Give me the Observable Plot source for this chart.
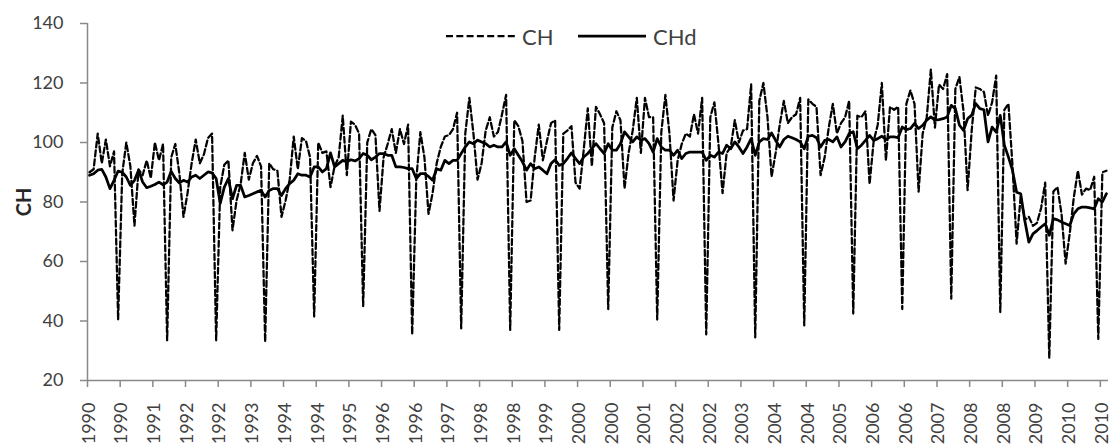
<!DOCTYPE html>
<html>
<head>
<meta charset="utf-8">
<script src="https://cdn.jsdelivr.net/npm/d3@7"></script>
<script src="https://cdn.jsdelivr.net/npm/@observablehq/plot@0.6"></script>
<style>
  body { margin: 0; background: #fff; }
  #wrap { position: relative; width: 1109px; height: 446px; overflow: hidden; font-family: Lato, "Open Sans", sans-serif; }
  #wrap svg.plot { position: absolute; left: 0; top: 0; }
  .lg { position: absolute; }
  .lgtext { position: absolute; font-size: 22px; color: #404040; line-height: 1; transform: translateY(-50%); }
  #ytitle { position: absolute; left: 22.5px; top: 202px; transform: translate(-50%, -50%) rotate(-90deg); font-weight: bold; font-size: 20px; color: #262626; white-space: nowrap; }
</style>
</head>
<body>
<div id="wrap"></div>
<script>
// Monthly series, Jan 1990 .. Oct 2010
const ch = [
  90, 91, 103, 93, 101, 92, 97, 40.5, 89.5, 100, 92, 72,
  91, 89, 94, 88, 100, 94, 99.5, 33.5, 95, 99.5, 89.5, 75,
  83, 93, 101, 93, 96, 101.5, 103, 33.5, 85, 92.5, 94, 70.5,
  80.5, 86, 96.5, 87.5, 93, 95.5, 92, 33, 93, 91, 90.5, 75,
  80.5, 87.5, 102, 91, 101.5, 100.5, 95, 41.5, 100, 96.5, 97, 85,
  92, 95, 109, 89, 107, 106, 103, 45, 100, 104.5, 102.5, 77,
  95, 99.5, 104.5, 96.5, 104.5, 99.5, 106, 35.5, 87.5, 103.5, 95, 76,
  83, 93, 98.5, 102, 102.5, 104.5, 110, 37.5, 103, 115, 103, 87.5,
  93, 104, 108.5, 102, 103.5, 109.5, 116, 37, 107.5, 105.5, 100.5, 80,
  80.5, 95, 106, 94, 100.5, 106.5, 107.5, 37, 103, 104, 105.5, 86.5,
  84.5, 97.5, 111.5, 92, 112, 109.5, 106.5, 44, 105, 110.5, 107.5, 84.5,
  96.5, 104, 115, 96.5, 115, 108.5, 108.5, 40.5, 103.5, 116, 103, 80.5,
  94, 99.5, 103, 102, 109.5, 103, 115, 35.5, 108.5, 113.5, 99.5, 83,
  96.5, 98.5, 107.5, 100, 104, 104.5, 119.5, 34.5, 114, 120, 108.5, 88.5,
  96.5, 106, 114, 106.5, 108.5, 109.5, 115, 38.5, 114.5, 113, 112, 89,
  95, 105, 113, 103, 106.5, 108.5, 114, 42.5, 109, 108.5, 110.5, 86,
  100.5, 106, 120, 94, 112, 111, 112, 44, 113, 117.5, 113, 83.5,
  103, 108.5, 124.5, 105, 119.5, 118, 123, 47.5, 118, 122, 110.5, 84,
  104, 118.5, 118, 117, 109, 113.5, 122.5, 43, 111, 113, 92, 66,
  82, 74, 75, 72, 73, 78, 86.5, 27.5, 83.5, 85, 76, 59.3,
  69.3, 81.5, 90.5, 82.5, 84.5, 84, 88.5, 34, 90, 90.5
];
const chd = [
  89, 89.5, 90.7, 91, 88.4, 84.5, 87.3, 90.4, 90, 88.4, 85.6, 87.3,
  90.7, 86.7, 84.8, 85.3, 85.9, 86.7, 85.8, 86.7, 90.3, 87.9, 86.4, 87.3,
  86.7, 88.4, 89, 87.9, 89, 90.1, 89.8, 87.9, 79.5, 85, 87.9, 81.1,
  85.6, 85.6, 81.7, 82.2, 82.8, 83.4, 83.9, 81.7, 83.9, 84.5, 84.5, 82.2,
  84.5, 86.2, 87.3, 89.5, 89, 89, 88.4, 91.8, 91.8, 90.1, 91.2, 96.5,
  91.8, 92.9, 94, 93.5, 94.2, 93.8, 94.6, 96.3, 95.7, 94.2, 95.1, 96.3,
  96.3, 95.7, 95.7, 91.8, 91.8, 91.6, 91.2, 91.2, 87.9, 89.5, 89.5, 88.6,
  87.3, 91.2, 90.7, 94, 92.9, 94, 94, 96.3, 98.5, 100.2, 99.6, 100.8,
  100.2, 99.6, 98.5, 99.1, 98.5, 98.5, 100.2, 95.7, 97.9, 95.7, 93.5, 90.7,
  92.9, 91.2, 91.8, 90.7, 89.5, 92.9, 94.2, 92.3, 92.9, 94.6, 96.5, 94.6,
  92.9, 95.1, 96.3, 97.9, 99.6, 97.9, 96.3, 99.6, 97.4, 97.4, 99.6, 103.6,
  101.9, 100.2, 101.9, 100.8, 101.3, 99.6, 96.8, 101.3, 98.5, 97.4, 97.4, 95.7,
  97.4, 94.6, 96.3, 96.8, 96.8, 96.8, 96.8, 94, 95.7, 95.1, 96.8, 96.3,
  99.1, 97.9, 100.2, 98.5, 96.3, 98.5, 101.3, 95.7, 100.2, 101.3, 101, 103.2,
  100.7, 98.5, 101, 102.1, 101.6, 101, 100.2, 97.9, 102.1, 102.4, 101.6, 98.5,
  100.7, 101, 100.2, 101.9, 98.5, 100.2, 103, 103.6, 97.9, 99.1, 100.7, 102.4,
  100.7, 101.3, 102.1, 101, 101.9, 101.9, 101.6, 105.2, 104.3, 104.7, 106.4, 104.7,
  105.8, 107.5, 108.6, 107.5, 107.7, 108, 108.6, 112.5, 111.4, 105.8, 104.1, 108,
  109.2, 113.1, 111.4, 111, 100.2, 105.2, 103.5, 109.1, 99.1, 95.1, 90.6, 83.3,
  82.8, 73.8, 66.5, 69.3, 70.4, 71.6, 72.7, 68.8, 74.4, 74, 73.3, 72.7,
  72.1, 76, 77.7, 78.3, 78.3, 78, 77.7, 81.1, 80, 82.8
];
const tickLabels = [
  "1990","1990","1991","1992","1992","1993","1994","1994","1995","1996","1996",
  "1997","1998","1998","1999","2000","2000","2001","2002","2002","2003","2004",
  "2004","2005","2006","2006","2007","2008","2008","2009","2010","2010"
];
const labelStep = 8;
const yTicks = [20, 40, 60, 80, 100, 120, 140];
const seriesNames = ["CH", "CHd"];
const yTitle = "CH";

const rows = ch.map((v, i) => ({ i, ch: v, chd: chd[i] }));
const labelIdx = tickLabels.map((_, k) => k * labelStep);
const boundaries = tickLabels.map((_, k) => k * labelStep - 0.5);
const axisGray = "#898989";

const chart = Plot.plot({
  width: 1109,
  height: 446,
  marginLeft: 87,
  marginRight: 1,
  marginTop: 23,
  marginBottom: 66,
  style: { fontFamily: "Lato, 'Open Sans', sans-serif", fontSize: "18px", color: "#404040", background: "transparent", overflow: "visible" },
  x: { type: "linear", domain: [-0.5, ch.length - 0.5] },
  y: { domain: [20, 140] },
  marks: [
    Plot.axisY({ ticks: yTicks, tickSize: 7, tickPadding: 17, stroke: axisGray, strokeWidth: 1.5, label: null, fontSize: 18, tickFormat: d => String(d) }),
    Plot.axisX({ ticks: boundaries, tickSize: 7, stroke: axisGray, strokeWidth: 1.5, tickFormat: () => "", label: null }),
    Plot.text(labelIdx, { x: d => d, frameAnchor: "bottom", text: d => tickLabels[d / labelStep], rotate: -90, textAnchor: "end", lineAnchor: "middle", dy: 22, dx: -0.5, fontSize: 18, fill: "#404040" }),
    Plot.ruleX([-0.5], { stroke: axisGray, strokeWidth: 1.5 }),
    Plot.ruleY([20], { stroke: axisGray, strokeWidth: 1.5 }),
    Plot.lineY(rows, { x: "i", y: "ch", stroke: "#000", strokeWidth: 2.25, strokeDasharray: "6,3" }),
    Plot.lineY(rows, { x: "i", y: "chd", stroke: "#000", strokeWidth: 2.75 })
  ]
});
chart.classList.add("plot");
const wrap = document.getElementById("wrap");
wrap.appendChild(chart);

// Legend (inside plot area, top)
const legendHTML = `
  <svg class="lg" style="left:446px;top:33px" width="69" height="6"><line x1="0" y1="3" x2="69" y2="3" stroke="#000" stroke-width="2.25" stroke-dasharray="7,3.3"/></svg>
  <div class="lgtext" style="left:522px;top:37px">${seriesNames[0]}</div>
  <svg class="lg" style="left:578px;top:33px" width="68" height="6"><line x1="0" y1="3" x2="68" y2="3" stroke="#000" stroke-width="2.75"/></svg>
  <div class="lgtext" style="left:653px;top:37px">${seriesNames[1]}</div>
  <div id="ytitle">${yTitle}</div>`;
wrap.insertAdjacentHTML("beforeend", legendHTML);
</script>
</body>
</html>
